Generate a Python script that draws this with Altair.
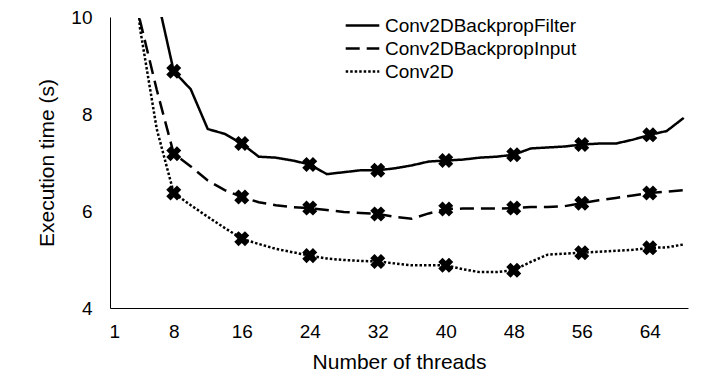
import altair as alt
import pandas as pd

threads = [2, 4, 6, 8, 10, 12, 14, 16, 18, 20, 22, 24, 26, 28, 30, 32, 34,
           36, 38, 40, 42, 44, 46, 48, 50, 52, 54, 56, 58, 60, 62, 64, 66, 68]

filter_vals = [20.0, 13.0, 10.45, 8.88, 8.51, 7.69, 7.59, 7.39, 7.12, 7.10, 7.04, 6.96,
               6.76, 6.80, 6.84, 6.84, 6.88, 6.94, 7.02, 7.04, 7.06, 7.10, 7.12, 7.16,
               7.29, 7.31, 7.33, 7.37, 7.39, 7.39, 7.47, 7.57, 7.65, 7.92]

input_vals = [16.0, 9.95, 8.50, 7.18, 6.92, 6.63, 6.43, 6.29, 6.18, 6.12, 6.08, 6.06,
              6.02, 5.98, 5.96, 5.94, 5.88, 5.84, 5.95, 6.04, 6.05, 6.05, 6.05, 6.06,
              6.08, 6.08, 6.10, 6.16, 6.22, 6.27, 6.32, 6.37, 6.40, 6.43]

conv_vals = [16.0, 9.80, 7.69, 6.37, 6.12, 5.88, 5.65, 5.43, 5.32, 5.22, 5.15, 5.08,
             5.02, 4.99, 4.97, 4.96, 4.92, 4.88, 4.88, 4.88, 4.80, 4.74, 4.74, 4.78,
             4.95, 5.10, 5.12, 5.14, 5.16, 5.18, 5.20, 5.24, 5.25, 5.31]

series_names = ["Conv2DBackpropFilter", "Conv2DBackpropInput", "Conv2D"]
x_ticks = [1, 8, 16, 24, 32, 40, 48, 56, 64]
y_ticks = [4, 6, 8, 10]

rows = []
for name, vals in zip(series_names, [filter_vals, input_vals, conv_vals]):
    for t, v in zip(threads, vals):
        rows.append({"threads": t, "time": v, "series": name})
df = pd.DataFrame(rows)

FONT = "Liberation Sans"

x_enc = alt.X("threads:Q",
              scale=alt.Scale(domain=[0.5, 68.5], nice=False, zero=False),
              axis=alt.Axis(values=x_ticks, title="Number of threads",
                            labelPadding=14, titlePadding=10))
y_enc = alt.Y("time:Q",
              scale=alt.Scale(domain=[4, 10], nice=False, zero=False),
              axis=alt.Axis(values=y_ticks, title="Execution time (s)",
                            labelPadding=18, titlePadding=13))

lines = alt.Chart(df).mark_line(color="black", strokeWidth=2.5, clip=True).encode(
    x=x_enc,
    y=y_enc,
    strokeDash=alt.StrokeDash(
        "series:N",
        scale=alt.Scale(domain=series_names, range=[[1, 0], [14, 7], [2.5, 2]]),
        legend=alt.Legend(title=None, orient="none", legendX=243, legendY=-1,
                          symbolType="M-2.8,0H2.8", symbolSize=144,
                          symbolStrokeWidth=2.5, symbolStrokeColor="black",
                          labelFont=FONT, labelFontSize=19, labelColor="black",
                          labelLimit=0, labelOffset=13, rowPadding=3),
    ),
    detail="series:N",
)

points = alt.Chart(df).transform_filter(
    "datum.threads % 8 == 0"
).mark_point(shape="cross", angle=45, size=230, filled=True, color="black",
             opacity=1).encode(x=x_enc, y=y_enc, detail="series:N")

chart = alt.layer(lines, points).properties(
    width=578, height=291,
    autosize=alt.AutoSizeParams(type="none"),
    padding={"left": 102, "top": 9, "right": 10, "bottom": 68},
).configure_view(stroke=None).configure_axis(
    grid=False, ticks=False, domainColor="black", domainWidth=1,
    labelFont=FONT, labelFontSize=19, labelColor="black",
    titleFont=FONT, titleFontSize=21, titleFontWeight="normal", titleColor="black",
)

chart.save("out.html", embed_options={"renderer": "svg", "actions": False})
